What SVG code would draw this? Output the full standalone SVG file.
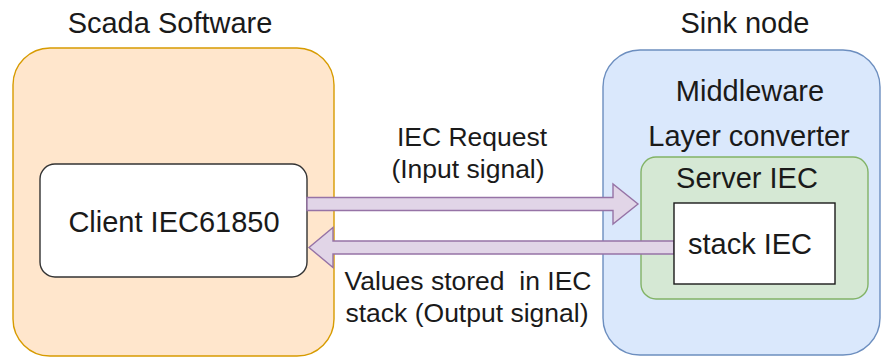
<svg xmlns="http://www.w3.org/2000/svg" width="884" height="358" viewBox="0 0 884 358">
<style>
text{font-family:"Liberation Sans",Arial,sans-serif;fill:#1a1a1a;text-anchor:middle}
.big{font-size:29px}
.lbl{font-size:26.5px}
.arrow{fill:#e1d5e7;stroke:#9673a6;stroke-width:1.4}
</style>
<rect width="884" height="358" fill="#ffffff"/>
<g id="scada">
<rect x="13" y="48" width="321" height="308" rx="37" fill="#ffe6cc" stroke="#d79b00" stroke-width="1.4"/>
<text class="big" x="170" y="33">Scada Software</text>
</g>
<g id="sink">
<rect x="603" y="50" width="277" height="305" rx="37" fill="#dae8fc" stroke="#6c8ebf" stroke-width="1.4"/>
<text class="big" x="745" y="33">Sink node</text>
<text class="big" x="750" y="101">Middleware</text>
<text class="big" x="749" y="146">Layer converter</text>
</g>
<g id="server">
<rect x="641" y="157" width="227" height="142" rx="15" fill="#d5e8d4" stroke="#82b366" stroke-width="1.4"/>
<text class="big" x="747" y="188">Server IEC</text>
</g>
<g id="client">
<rect x="40" y="164" width="267" height="113" rx="15" fill="#ffffff" stroke="#333333" stroke-width="1.4"/>
<text class="big" x="174" y="232">Client IEC61850</text>
</g>
<g id="connectors">
<path class="arrow" d="M307,197.5 L613,197.5 L613,184 L638,204 L613,224 L613,210.5 L307,210.5 Z"/>
<path class="arrow" d="M674,241 L333,241 L333,227.5 L309,247.5 L333,267.5 L333,254 L674,254 Z"/>
<text class="lbl" x="472" y="146">IEC Request</text>
<text class="lbl" x="468" y="178">(Input signal)</text>
<text class="lbl" x="468" y="290" xml:space="preserve">Values stored  in IEC</text>
<text class="lbl" x="467" y="322">stack (Output signal)</text>
</g>
<g id="stack">
<rect x="674" y="203" width="161" height="81" fill="#ffffff" stroke="#1a1a1a" stroke-width="1.4"/>
<text class="big" x="750" y="254">stack IEC</text>
</g>
</svg>
